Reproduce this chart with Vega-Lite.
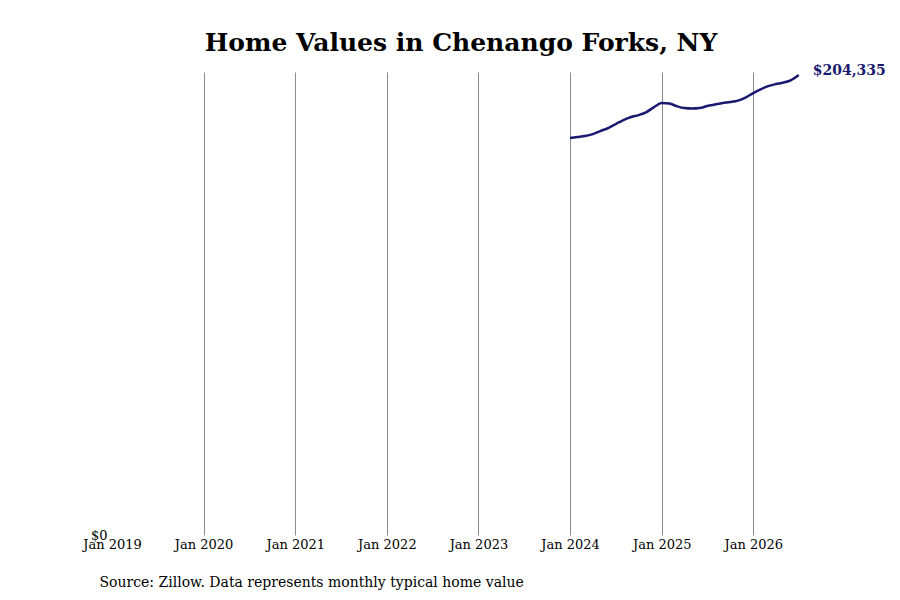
{
  "$schema": "https://vega.github.io/schema/vega-lite/v6.json",
  "autosize": "none",
  "width": 698,
  "height": 463,
  "padding": {"left": 112, "top": 72, "right": 90, "bottom": 65},
  "background": "white",
  "title": {
    "text": "Home Values in Chenango Forks, NY",
    "font": "DejaVu Serif",
    "fontSize": 25,
    "fontWeight": "bold",
    "color": "black",
    "anchor": "middle",
    "offset": 8
  },
  "config": {
    "view": {"stroke": null},
    "font": "DejaVu Serif"
  },
  "data": {
    "values": [
      {"date": "2024-01-01", "value": 176350},
      {"date": "2024-02-01", "value": 176790},
      {"date": "2024-03-01", "value": 177240},
      {"date": "2024-04-01", "value": 178120},
      {"date": "2024-05-01", "value": 179460},
      {"date": "2024-06-01", "value": 180790},
      {"date": "2024-07-01", "value": 182570},
      {"date": "2024-08-01", "value": 184340},
      {"date": "2024-09-01", "value": 185680},
      {"date": "2024-10-01", "value": 186560},
      {"date": "2024-11-01", "value": 187900},
      {"date": "2024-12-01", "value": 190120},
      {"date": "2025-01-01", "value": 191890},
      {"date": "2025-02-01", "value": 191670},
      {"date": "2025-03-01", "value": 190560},
      {"date": "2025-04-01", "value": 189670},
      {"date": "2025-05-01", "value": 189450},
      {"date": "2025-06-01", "value": 189670},
      {"date": "2025-07-01", "value": 190560},
      {"date": "2025-08-01", "value": 191230},
      {"date": "2025-09-01", "value": 191890},
      {"date": "2025-10-01", "value": 192340},
      {"date": "2025-11-01", "value": 193000},
      {"date": "2025-12-01", "value": 194340},
      {"date": "2026-01-01", "value": 196340},
      {"date": "2026-02-01", "value": 198110},
      {"date": "2026-03-01", "value": 199450},
      {"date": "2026-04-01", "value": 200340},
      {"date": "2026-05-01", "value": 201000},
      {"date": "2026-06-01", "value": 202110},
      {"date": "2026-07-01", "value": 204335, "label": "last"}
    ]
  },
  "encoding": {
    "x": {
      "field": "date",
      "type": "temporal",
      "scale": {"domain": ["2019-01-01", "2026-08-15"], "nice": false},
      "axis": {
        "title": "Source: Zillow. Data represents monthly typical home value",
        "titleFont": "DejaVu Serif",
        "titleFontSize": 14,
        "titleFontWeight": "normal",
        "titleColor": "black",
        "titleAnchor": "start",
        "titleAlign": "left",
        "titleBaseline": "middle",
        "titleX": -13,
        "titleY": 47,
        "format": "%b %Y",
        "tickCount": {"interval": "year", "step": 1},
        "labelFont": "DejaVu Serif",
        "labelFontSize": 13,
        "labelColor": "black",
        "labelPadding": 3,
        "labelFlush": false,
        "labelOverlap": false,
        "domain": false,
        "ticks": false,
        "grid": true,
        "gridColor": "#8c8c8c",
        "gridWidth": 1,
        "gridOpacity": {"condition": {"test": "year(datum.value) == 2019", "value": 0}, "value": 1}
      }
    },
    "y": {
      "field": "value",
      "type": "quantitative",
      "scale": {"domain": [0, 205700], "nice": false},
      "axis": {
        "title": null,
        "values": [0],
        "format": "$,.0f",
        "labelFont": "DejaVu Serif",
        "labelFontSize": 13,
        "labelColor": "black",
        "labelPadding": 5,
        "labelBaseline": "middle",
        "domain": false,
        "ticks": false,
        "grid": false
      }
    }
  },
  "layer": [
    {
      "mark": {"type": "line", "color": "#191970", "strokeWidth": 2.5, "interpolate": "monotone"}
    },
    {
      "transform": [{"filter": "datum.label == 'last'"}],
      "mark": {
        "type": "text",
        "align": "left",
        "baseline": "middle",
        "dx": 14,
        "dy": -4,
        "font": "DejaVu Serif",
        "fontSize": 14,
        "fontWeight": "bold",
        "color": "#191970"
      },
      "encoding": {
        "text": {"field": "value", "type": "quantitative", "format": "$,.0f"}
      }
    }
  ]
}
